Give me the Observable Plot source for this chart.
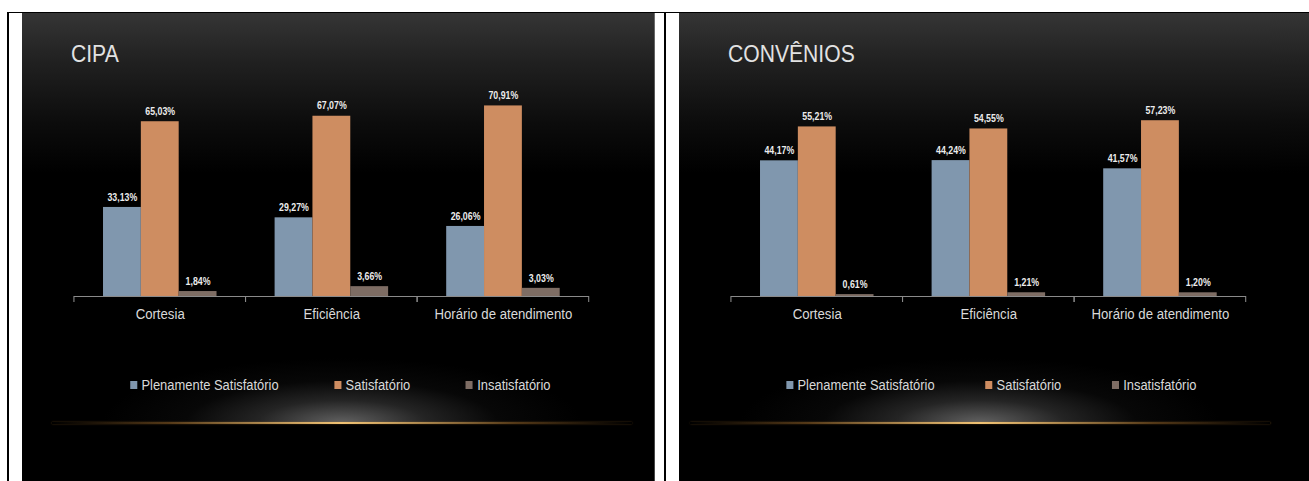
<!DOCTYPE html>
<html><head><meta charset="utf-8">
<script src="https://cdn.jsdelivr.net/npm/d3@7"></script>
<script src="https://cdn.jsdelivr.net/npm/@observablehq/plot@0.6"></script>
<style>
html,body{margin:0;padding:0;background:#fff;width:1309px;height:481px;overflow:hidden;position:relative;font-family:"Liberation Sans",Arial,sans-serif}
.rule{position:absolute;background:#000}
.slide{position:absolute;top:13px;height:468px;overflow:hidden}
.inner{position:absolute;left:0;top:0;height:468px;transform-origin:0 0;
  background:linear-gradient(to bottom,#353535 0px,#202020 50px,#0c0c0c 110px,#000 160px)}
.title{position:absolute;top:29px;font-size:24px;line-height:24px;color:#e2e2e2;white-space:nowrap}
.chart{position:absolute;left:0;top:57px}
.legend{position:absolute;top:364px;display:flex;align-items:center;font-size:14.7px;line-height:16px;color:#d9d9d9;white-space:nowrap}
.legend .item{display:flex;align-items:center}
.legend .sw{width:8px;height:8px;margin-right:5px;display:inline-block}
.glow{position:absolute;top:345px;height:65px;
  background:radial-gradient(ellipse 50% 100% at 50% 100%,rgba(150,150,150,0.65),rgba(95,95,95,0.38) 35%,rgba(45,45,45,0.16) 65%,rgba(0,0,0,0) 100%)}
.line{position:absolute;top:409px;height:2px;
  background:linear-gradient(to right,rgba(110,70,20,0),rgba(150,100,40,0.55) 20%,#f0c274 50%,rgba(150,100,40,0.55) 80%,rgba(110,70,20,0));
  box-shadow:0 0 2px rgba(190,130,50,0.45)}
</style></head>
<body>
<div class="rule" style="left:7px;top:12px;width:1302px;height:1px"></div>
<div class="rule" style="left:7px;top:12px;width:2px;height:469px"></div>
<div class="rule" style="left:664px;top:12px;width:2px;height:469px"></div>
<div id="s1" class="slide" style="left:22px;width:633px"></div>
<div id="s2" class="slide" style="left:679px;width:630px"></div>
<script>
const categories = ["Cortesia", "Eficiência", "Horário de atendimento"];
const seriesNames = ["Plenamente Satisfatório", "Satisfatório", "Insatisfatório"];
const seriesColors = ["#8097AE", "#CE8D61", "#7E6D64"];

const cipaTitle = "CIPA";
const cipaPlenamente = [33.13, 29.27, 26.06];
const cipaSatisfatorio = [65.03, 67.07, 70.91];
const cipaInsatisfatorio = [1.84, 3.66, 3.03];
const cipaYMax = 80;

const conveniosTitle = "CONVÊNIOS";
const conveniosPlenamente = [44.17, 44.24, 41.57];
const conveniosSatisfatorio = [55.21, 54.55, 57.23];
const conveniosInsatisfatorio = [0.61, 1.21, 1.20];
const conveniosYMax = 70;

const S = 0.88; // horizontal squeeze of the original slides
const FONT = "'Liberation Sans', Arial, sans-serif";
const fmt = v => v.toFixed(2).replace(".", ",") + "%";

function buildData(values) {
  return categories.flatMap((c, i) => seriesNames.map((s, j) => ({category: c, series: s, value: values[j][i]})));
}

function chart(values, yMax) {
  const data = buildData(values);
  const axisColor = "#8a8a8a";
  const baseAxis = (index, scales) => {
    const [x0, x1] = scales.x.range();
    const y0 = scales.y(0);
    const g = d3.create("svg:g").attr("stroke", axisColor).attr("stroke-width", 1.2).attr("fill", "none");
    g.append("path").attr("d", `M${x0},${y0 + 0.5}H${x1}M${x0},${y0}V${y0 + 6}M${x1},${y0}V${y0 + 6}`);
    return g.node();
  };
  return Plot.plot({
    width: 633 / S, height: 260,
    marginTop: 11, marginBottom: 34, marginLeft: 51 / S, marginRight: 66 / S,
    style: {background: "transparent", color: "#d9d9d9", fontFamily: FONT, overflow: "visible"},
    fx: {domain: categories, padding: 0},
    x: {domain: seriesNames, paddingInner: 0, paddingOuter: 0.745},
    y: {domain: [0, yMax]},
    color: {domain: seriesNames, range: seriesColors},
    marks: [
      Plot.barY(data, {fx: "category", x: "series", y: "value", fill: "series"}),
      baseAxis,
      Plot.text(data, {fx: "category", x: "series", y: "value", text: d => fmt(d.value), dy: -10,
        fill: "#ececec", fontWeight: "bold", fontSize: 10}),
      Plot.axisFx({anchor: "bottom", label: null, tickSize: 0, tickPadding: 12, fontSize: 15, fill: "#d9d9d9"}),
      Plot.axisX({ticks: [], label: null, tickSize: 0}),
      Plot.axisY({ticks: [], label: null, tickSize: 0})
    ]
  });
}

function slide(id, title, values, yMax, legendLeft, legendGap, glowCenter, slideWidth) {
  const outer = document.getElementById(id);
  const inner = document.createElement("div");
  inner.className = "inner";
  inner.style.width = (slideWidth / S) + "px";
  inner.style.transform = `scaleX(${S})`;
  outer.appendChild(inner);

  const glow = document.createElement("div");
  glow.className = "glow";
  glow.style.left = ((glowCenter - 240) / S) + "px";
  glow.style.width = (480 / S) + "px";
  inner.appendChild(glow);
  const line = document.createElement("div");
  line.className = "line";
  line.style.left = ((glowCenter - 290) / S) + "px";
  line.style.width = (580 / S) + "px";
  inner.appendChild(line);

  const t = document.createElement("div");
  t.className = "title";
  t.style.left = (49 / S) + "px";
  t.textContent = title;
  inner.appendChild(t);

  const c = document.createElement("div");
  c.className = "chart";
  c.appendChild(chart(values, yMax));
  inner.appendChild(c);

  const lg = document.createElement("div");
  lg.className = "legend";
  lg.style.left = (legendLeft / S) + "px";
  lg.style.gap = (legendGap / S) + "px";
  seriesNames.forEach((s, i) => {
    const it = document.createElement("span");
    it.className = "item";
    const sw = document.createElement("span");
    sw.className = "sw";
    sw.style.background = seriesColors[i];
    it.appendChild(sw);
    it.appendChild(document.createTextNode(s));
    lg.appendChild(it);
  });
  inner.appendChild(lg);
}

slide("s1", cipaTitle, [cipaPlenamente, cipaSatisfatorio, cipaInsatisfatorio], cipaYMax, 108, 55.5, 320, 633);
slide("s2", conveniosTitle, [conveniosPlenamente, conveniosSatisfatorio, conveniosInsatisfatorio], conveniosYMax, 107, 50.5, 301, 633);
</script>
</body></html>
